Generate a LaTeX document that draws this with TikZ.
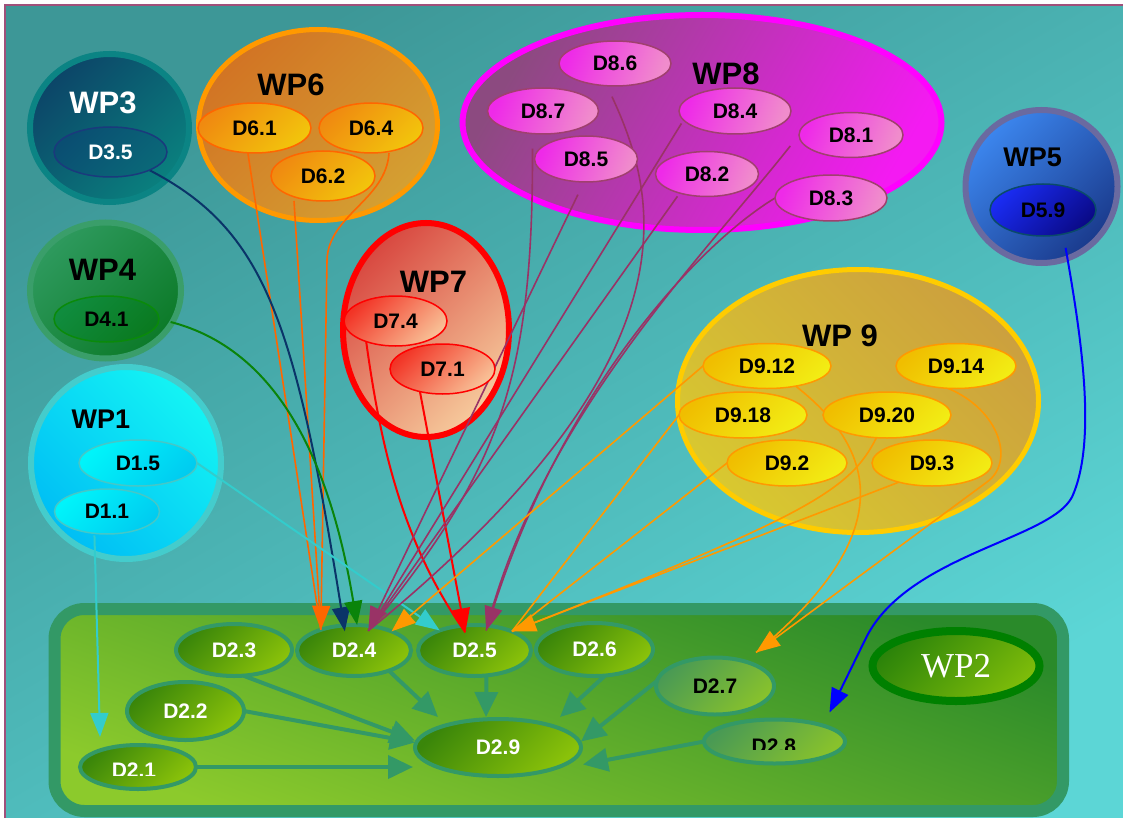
\documentclass[tikz,border=0pt]{standalone}
\usepackage{fontspec}
\setmainfont{Liberation Sans}
\newfontfamily\wpserif{Liberation Serif}
\usetikzlibrary{shapes.geometric,arrows.meta}
\pgfdeclarelayer{bg}
\pgfdeclarelayer{conn}
\pgfsetlayers{bg,conn,main}
\definecolor{bgA}{HTML}{3D9797}
\definecolor{bgB}{HTML}{5CD6D6}
\definecolor{framec}{HTML}{A0507A}
\definecolor{wpthreeR}{HTML}{0B8484}
\definecolor{wpthreeA}{HTML}{0C4568}
\definecolor{wpthreeB}{HTML}{0A807E}
\definecolor{dthreeA}{HTML}{0A4E72}
\definecolor{dthreeB}{HTML}{0A6878}
\definecolor{dthreeL}{HTML}{1A3A7C}
\definecolor{wpsixR}{HTML}{FF9900}
\definecolor{wpsixA}{HTML}{D27424}
\definecolor{wpsixB}{HTML}{D4A032}
\definecolor{dsixA}{HTML}{F08A10}
\definecolor{dsixB}{HTML}{F2C40C}
\definecolor{dsixL}{HTML}{FF6600}
\definecolor{wpfourR}{HTML}{3A9E6A}
\definecolor{wpfourA}{HTML}{2E9A5E}
\definecolor{wpfourB}{HTML}{0C7A28}
\definecolor{dfourA}{HTML}{108C3E}
\definecolor{dfourB}{HTML}{0A7A20}
\definecolor{dfourL}{HTML}{0A8A0A}
\definecolor{wponeR}{HTML}{44CCCC}
\definecolor{wponeA}{HTML}{14F4F4}
\definecolor{wponeB}{HTML}{00BEF4}
\definecolor{doneA}{HTML}{00F4FA}
\definecolor{doneB}{HTML}{00CCF0}
\definecolor{doneL}{HTML}{44C8C8}
\definecolor{wpsevR}{HTML}{FF0000}
\definecolor{wpsevA}{HTML}{D84840}
\definecolor{wpsevB}{HTML}{F6CA9C}
\definecolor{dsevA}{HTML}{F23426}
\definecolor{dsevB}{HTML}{F8C096}
\definecolor{wpeigR}{HTML}{FF00FF}
\definecolor{wpeigA}{HTML}{8C4A80}
\definecolor{wpeigB}{HTML}{F41AF2}
\definecolor{deigA}{HTML}{EE2AE8}
\definecolor{deigB}{HTML}{F08CCC}
\definecolor{deigL}{HTML}{A0406E}
\definecolor{wpfivR}{HTML}{6A6AA0}
\definecolor{wpfivA}{HTML}{3C86EE}
\definecolor{wpfivB}{HTML}{1A3A8C}
\definecolor{dfivA}{HTML}{1A2CF2}
\definecolor{dfivB}{HTML}{0A0A88}
\definecolor{dfivL}{HTML}{0A4A6A}
\definecolor{wpninR}{HTML}{FFCC00}
\definecolor{wpninA}{HTML}{CCA03E}
\definecolor{wpninB}{HTML}{D8C830}
\definecolor{dninA}{HTML}{F0BE00}
\definecolor{dninB}{HTML}{F2EC14}
\definecolor{dninL}{HTML}{FF9900}
\definecolor{boxR}{HTML}{339966}
\definecolor{boxA}{HTML}{2A8A2A}
\definecolor{boxB}{HTML}{8CCA2C}
\definecolor{dtwoA}{HTML}{3A860A}
\definecolor{dtwoB}{HTML}{8AC20A}
\definecolor{dtwoltA}{HTML}{4A9A54}
\definecolor{dtwoltB}{HTML}{88C22C}
\definecolor{wptwoR}{HTML}{008000}
\definecolor{wptwoA}{HTML}{2C840A}
\definecolor{wptwoB}{HTML}{7EBC0A}
\definecolor{cOsix}{HTML}{FF6600}
\definecolor{cNavy}{HTML}{0A3468}
\definecolor{cGreen}{HTML}{0A840A}
\definecolor{cMag}{HTML}{993366}
\definecolor{cCyan}{HTML}{33CCCC}
\definecolor{cRed}{HTML}{FF0000}
\definecolor{cOnine}{HTML}{FF9900}
\definecolor{cBlue}{HTML}{0000FF}
\tikzset{
  gr/.style 2 args={top color=#1,bottom color=#2,shading angle=45},
  el/.style={ellipse,inner sep=0pt,outer sep=0pt},
  sz/.style 2 args={minimum width=#1pt,minimum height=#2pt},
  dl/.style={font=\bfseries\fontsize{21}{21}\selectfont},
  wpl/.style={font=\bfseries\fontsize{31}{31}\selectfont},
  wps/.style={font=\bfseries\fontsize{27}{27}\selectfont},
  wpbig/.style={el,line width=6pt},
  dsub/.style={el,dl,line width=1.5pt},
  dthree/.style={dsub,draw=dthreeL,gr={dthreeA}{dthreeB},text=white},
  dsix/.style={dsub,draw=dsixL,gr={dsixA}{dsixB}},
  dfour/.style={dsub,draw=dfourL,gr={dfourA}{dfourB}},
  done/.style={dsub,draw=doneL,gr={doneA}{doneB}},
  dsev/.style={dsub,draw=wpsevR,gr={dsevA}{dsevB}},
  deig/.style={dsub,draw=deigL,top color=deigA,bottom color=deigB,shading angle=70},
  dfiv/.style={dsub,draw=dfivL,gr={dfivA}{dfivB}},
  dnin/.style={dsub,draw=dninL,gr={dninA}{dninB}},
  dtwo/.style={el,dl,line width=4pt,draw=boxR,gr={dtwoA}{dtwoB},text=white},
  dtwolt/.style={el,dl,line width=4pt,draw=boxR,gr={dtwoltA}{dtwoltB}},
  tip/.style={-{Triangle[length=24pt,width=18pt]}},
  bigtip/.style={-{Triangle[length=25pt,width=23pt]}},
  cw/.style={line width=1.6pt},
  cwb/.style={line width=2pt},
  iw/.style={draw=boxR,line width=4pt}
}
\begin{document}
\begin{tikzpicture}[x=1pt,y=-1pt]
\useasboundingbox (0,0) rectangle (1123,818);
\begin{pgfonlayer}{bg}
\fill[white] (0,0) rectangle (1123,818);
\shade[top color=bgA,bottom color=bgB,shading angle=30] (5,5) rectangle (1123,818);
\draw[framec,line width=1.5pt] (1123,5) -- (5,5) -- (5,818);
% work package containers
\node[wpbig,draw=wpthreeR,gr={wpthreeA}{wpthreeB},sz={159}{148}] (wp3) at (109.5,128) {};
\node[wpbig,line width=5pt,draw=wpsixR,gr={wpsixA}{wpsixB},sz={239}{191}] (wp6) at (318,125) {};
\node[wpbig,draw=wpfourR,gr={wpfourA}{wpfourB},sz={151}{136}] (wp4) at (105.5,290.5) {};
\node[wpbig,draw=wponeR,top color=wponeA,bottom color=wponeB,shading angle=-45,sz={190}{192}] (wp1) at (126,463) {};
\node[wpbig,draw=wpsevR,gr={wpsevA}{wpsevB},sz={166}{214}] (wp7) at (426,330) {};
\node[wpbig,draw=wpeigR,top color=wpeigA,bottom color=wpeigB,shading angle=60,sz={479}{215}] (wp8) at (702,122.5) {};
\node[wpbig,draw=wpfivR,gr={wpfivA}{wpfivB},sz={152}{153}] (wp5) at (1041.5,186.5) {};
\node[wpbig,line width=5pt,draw=wpninR,top color=wpninA,bottom color=wpninB,shading angle=-45,sz={361}{263}] (wp9) at (858,401) {};
% WP2 box
\draw[line width=12pt,draw=boxR,rounded corners=30pt,top color=boxA,bottom color=boxB,shading angle=-20] (54.5,609) rectangle (1063,811);
\node[dtwo,sz={116}{52}] (d23) at (234,650) {D2.3};
\node[dtwo,sz={114}{51}] (d24) at (354,650.5) {D2.4};
\node[dtwo,sz={113}{51}] (d25) at (474.5,650.5) {D2.5};
\node[dtwo,sz={117}{53}] (d26) at (594.5,649.5) {D2.6};
\node[dtwolt,sz={118}{57}] (d27) at (715,686) {D2.7};
\node[dtwolt,sz={141}{44}] (d28) at (774.5,741.5) {};
\node[dtwo,sz={117}{58}] (d22) at (185.5,711) {D2.2};
\node[dtwo,sz={116}{44}] (d21) at (138,767) {};
\node[dtwo,sz={166}{57}] (d29) at (498,747.5) {D2.9};
\node[el,draw=wptwoR,line width=8pt,gr={wptwoA}{wptwoB},sz={167}{70},text=white,font=\wpserif\fontsize{35}{35}\selectfont] (wp2) at (956,666) {WP2};
\begin{scope}
\clip (700,700) rectangle (850,749);
\node[dl] (t28) at (773.8,746) {D2.8};
\end{scope}
\begin{scope}
\clip (70,740) rectangle (200,775.5);
\node[dl,text=white] (t21) at (134,770) {D2.1};
\end{scope}
% arrows inside WP2
\draw[iw,bigtip] (d23.-70) -- ([yshift=7pt]d29.west);
\draw[iw,bigtip] (d22.east) -- ([yshift=5pt]d29.west);
\draw[iw,bigtip] (d21.east) -- ([xshift=-2pt,yshift=-19.5pt]d29.west);
\draw[iw,bigtip] (d24.-30) -- ([xshift=-60pt,yshift=2pt]d29.north);
\draw[iw,bigtip] ([xshift=12pt]d25.south) -- ([xshift=-12pt,yshift=2pt]d29.north);
\draw[iw,bigtip] (d26.-68) -- ([xshift=62pt,yshift=2pt]d29.north);
\draw[iw,bigtip] (d27.175) -- ([yshift=6pt]d29.east);
\draw[iw,bigtip] (d28.west) -- ([xshift=2pt,yshift=-17pt]d29.east);
\end{pgfonlayer}
% deliverables in the work packages
\node[dthree,sz={113}{50}] (d35) at (110.5,152) {D3.5};
\node[dsix,sz={113}{50}] (d61) at (254.5,128) {D6.1};
\node[dsix,sz={104}{50}] (d64) at (371,128) {D6.4};
\node[dsix,sz={104}{50}] (d62) at (323,176) {D6.2};
\node[dfour,sz={105}{46}] (d41) at (106.5,319) {D4.1};
\node[done,sz={118}{46}] (d15) at (138,463) {D1.5};
\node[done,sz={105}{45}] (d11) at (107,511.5) {D1.1};
\node[dsev,sz={103}{50}] (d74) at (395.5,321) {D7.4};
\node[dsev,sz={105}{50}] (d71) at (442.5,369) {D7.1};
\node[deig,sz={112}{45}] (d86) at (615,63.5) {D8.6};
\node[deig,sz={111}{46}] (d87) at (543,111) {D8.7};
\node[deig,sz={103}{46}] (d85) at (586,159) {D8.5};
\node[deig,sz={112}{46}] (d84) at (735,111) {D8.4};
\node[deig,sz={103}{45}] (d82) at (707,174) {D8.2};
\node[deig,sz={104}{45}] (d81) at (851,135) {D8.1};
\node[deig,sz={112}{46}] (d83) at (831,198) {D8.3};
\node[dfiv,sz={106}{52}] (d59) at (1043,210) {D5.9};
\node[dnin,sz={128}{45}] (d912) at (767,366) {D9.12};
\node[dnin,sz={120}{45}] (d914) at (956,366) {D9.14};
\node[dnin,sz={128}{46}] (d918) at (743,415) {D9.18};
\node[dnin,sz={128}{46}] (d920) at (887,415) {D9.20};
\node[dnin,sz={120}{46}] (d92) at (787,463) {D9.2};
\node[dnin,sz={120}{46}] (d93) at (932,463) {D9.3};
% labels
\node[wpl,text=white] (lwp3) at (103,102.5) {WP3};
\node[wpl] (lwp6) at (291,85) {WP6};
\node[wpl] (lwp4) at (102.5,270) {WP4};
\node[wps] (lwp1) at (101,419) {WP1};
\node[wpl] (lwp7) at (433.5,282) {WP7};
\node[wpl] (lwp8) at (726,74) {WP8};
\node[wps] (lwp5) at (1032.5,157.5) {WP5};
\node[wpl] (lwp9) at (840,336) {WP 9};
\begin{pgfonlayer}{conn}
% WP6
\draw[cw,cOsix] (d61.-105) -- (d24.148);
\draw[cw,cOsix] ([xshift=-29pt]d62.south) -- (d24.148);
\draw[cw,cOsix,tip] ([xshift=18pt]d64.south) .. controls (386,200) and (328.5,215) .. (327,260) -- (d24.148);
% WP3, WP4
\draw[cwb,cNavy,tip] (d35.-25) .. controls (265,230) and (295,320) .. ([yshift=-6pt]d24.110);
\draw[cwb,cGreen,tip,shorten <=12pt] (d41.east) .. controls (260,345) and (325,430) .. (d24.83);
% WP1
\draw[cwb,cCyan,tip] (d15.east) -- (d25.150);
\draw[cwb,cCyan,tip,shorten <=2pt] (d11.-120) -- ([xshift=-38pt,yshift=8pt]d21.north);
% WP7
\draw[cwb,cRed] (d74.-145) .. controls (380,440) and (400,540) .. ([yshift=-7pt]d25.110);
\draw[cwb,cRed,tip] (d71.-135) -- ([yshift=-7pt]d25.110);
% WP8
\draw[cw,cMag,shorten <=15pt] (d87.-115) .. controls (533,380) and (500,470) .. ([yshift=-5pt]d24.60);
\draw[cw,cMag,shorten <=12pt] (d86.-110) .. controls (660,200) and (700,360) .. ([yshift=-5pt]d24.60);
\draw[cw,cMag,shorten <=4pt] (d84.-170) -- ([yshift=-5pt]d24.60);
\draw[cw,cMag,shorten <=4pt] (d82.-145) -- ([yshift=-5pt]d24.60);
\draw[cw,cMag,tip,shorten <=14pt] (d85.-95) -- ([yshift=-5pt]d24.60);
\draw[cw,cMag,shorten <=14pt] (d81.west) .. controls (700,260) and (540,420) .. ([yshift=-5pt]d25.65);
\draw[cw,cMag,tip] (d83.west) .. controls (690,250) and (560,400) .. ([yshift=-5pt]d25.65);
% WP9
\draw[cw,cOnine,tip] (d912.west) -- (d24.27);
\draw[cw,cOnine] (d918.west) -- (d25.27);
\draw[cw,cOnine] (d92.west) -- (d25.27);
\draw[cw,cOnine] (d920.-115) .. controls (850,490) and (810,515) .. (d25.27);
\draw[cw,cOnine,tip] (d93.-150) -- (d25.27);
\draw[cw,cOnine] (d912.-35) .. controls (890,460) and (885,545) .. ([xshift=41pt,yshift=5pt]d27.north);
\draw[cw,cOnine,tip] (d914.-110) .. controls (1000,410) and (1015,462) .. (987,482) -- ([xshift=41pt,yshift=5pt]d27.north);
% WP5
\draw[cwb,cBlue,tip,shorten <=14pt] (d59.-50) .. controls (1080,330) and (1098,440) .. (1072,497) .. controls (1050,540) and (905,555) .. (865,640) -- ([xshift=55pt,yshift=7pt]d28.north);
\end{pgfonlayer}
\end{tikzpicture}
\end{document}
